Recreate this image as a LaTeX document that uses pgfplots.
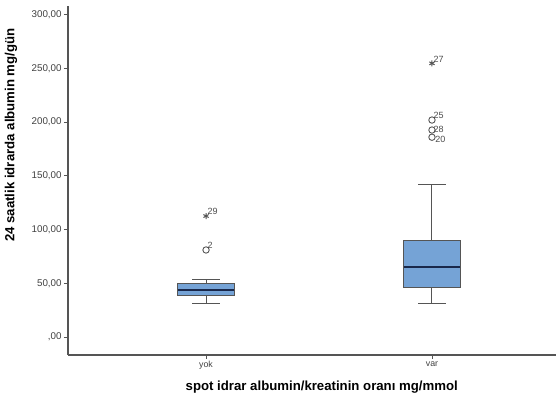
\documentclass[border=0pt]{standalone}
\usepackage{fontspec}
\setmainfont{Liberation Sans}
\usepackage{pgfplots}
\usepgfplotslibrary{statistics}
\pgfplotsset{compat=1.18}
\definecolor{boxblue}{RGB}{117,163,214}
\definecolor{axisgray}{RGB}{85,85,85}
\definecolor{medblue}{RGB}{25,40,75}
\begin{document}
\begin{tikzpicture}
\begin{axis}[
  anchor=south west,
  scale only axis, width=244pt, height=174.5pt,
  xmin=0.389, xmax=2.549, ymin=-16.8, ymax=308.2,
  axis x line*=bottom, axis y line*=left,
  axis line style={axisgray, line width=0.6pt, -},
  xtick={1,2}, xticklabels={yok,var},
  ytick={0,50,100,150,200,250,300},
  yticklabels={{,00},{50,00},{100,00},{150,00},{200,00},{250,00},{300,00}},
  tick style={axisgray, line width=0.45pt},
  tick align=outside, major tick length=2pt,
  xticklabel style={font=\fontsize{4.4}{5}\selectfont, text=black!75, inner sep=1pt},
  yticklabel style={font=\fontsize{4.9}{5}\selectfont, text=black!75, inner sep=1pt},
  xlabel={spot idrar albumin/kreatinin oran\i\ mg/mmol},
  ylabel={24 saatlik idrarda albumin mg/gün},
  xlabel style={font=\bfseries\fontsize{6.6}{7}\selectfont, at={(rel axis cs:0.52,0)}, anchor=north, yshift=-9.5pt},
  ylabel style={font=\bfseries\fontsize{6.6}{7}\selectfont, at={(rel axis cs:-0.117,0.63)}, anchor=center},
  boxplot/draw direction=y,
  boxplot/every median/.append style={draw=medblue, line width=0.8pt},
]
\addplot+[boxplot prepared={draw position=1, median=43.8, upper quartile=50, lower quartile=38.4, upper whisker=53.3, lower whisker=31.4, box extend=0.25, whisker extend=0.12},
  draw=axisgray, fill=boxblue, mark=none, solid, line width=0.5pt] coordinates {};
\addplot+[boxplot prepared={draw position=2, median=65.2, upper quartile=90, lower quartile=46.3, upper whisker=142.4, lower whisker=31.4, box extend=0.25, whisker extend=0.12},
  draw=axisgray, fill=boxblue, mark=none, solid, line width=0.5pt] coordinates {};
\addplot[only marks, mark=o, mark size=1.6pt, mark options={draw=axisgray, line width=0.45pt},
  nodes near coords, point meta=explicit symbolic,
  nodes near coords style={anchor=south west, font=\fontsize{4.5}{5}\selectfont, text=black!70, inner sep=0.3pt, xshift=0.3pt}]
  table[meta=label]{
x y label
1 81 2
2 202 25
};
\addplot[only marks, mark=o, mark size=1.6pt, mark options={draw=axisgray, line width=0.45pt},
  nodes near coords, point meta=explicit symbolic,
  nodes near coords style={anchor=south west, font=\fontsize{4.5}{5}\selectfont, text=black!70, inner sep=0.3pt, xshift=0.3pt, yshift=-2pt}]
  table[meta=label]{
x y label
2 192.7 28
};
\addplot[only marks, mark=o, mark size=1.6pt, mark options={draw=axisgray, line width=0.45pt},
  nodes near coords, point meta=explicit symbolic,
  nodes near coords style={anchor=west, font=\fontsize{4.5}{5}\selectfont, text=black!70, inner sep=0.3pt, xshift=1.2pt, yshift=-1pt}]
  table[meta=label]{
x y label
2 186 20
};
\addplot[only marks, mark=asterisk, mark size=1.5pt, mark options={draw=axisgray, line width=0.5pt},
  nodes near coords, point meta=explicit symbolic,
  nodes near coords style={anchor=south west, font=\fontsize{4.5}{5}\selectfont, text=black!70, inner sep=0.3pt, xshift=0.3pt}]
  table[meta=label]{
x y label
1 112.6 29
2 254.8 27
};
\end{axis}
\pgfresetboundingbox
\path[use as bounding box] (-34pt,-20pt) rectangle (244pt,177.5pt);
\end{tikzpicture}
\end{document}
